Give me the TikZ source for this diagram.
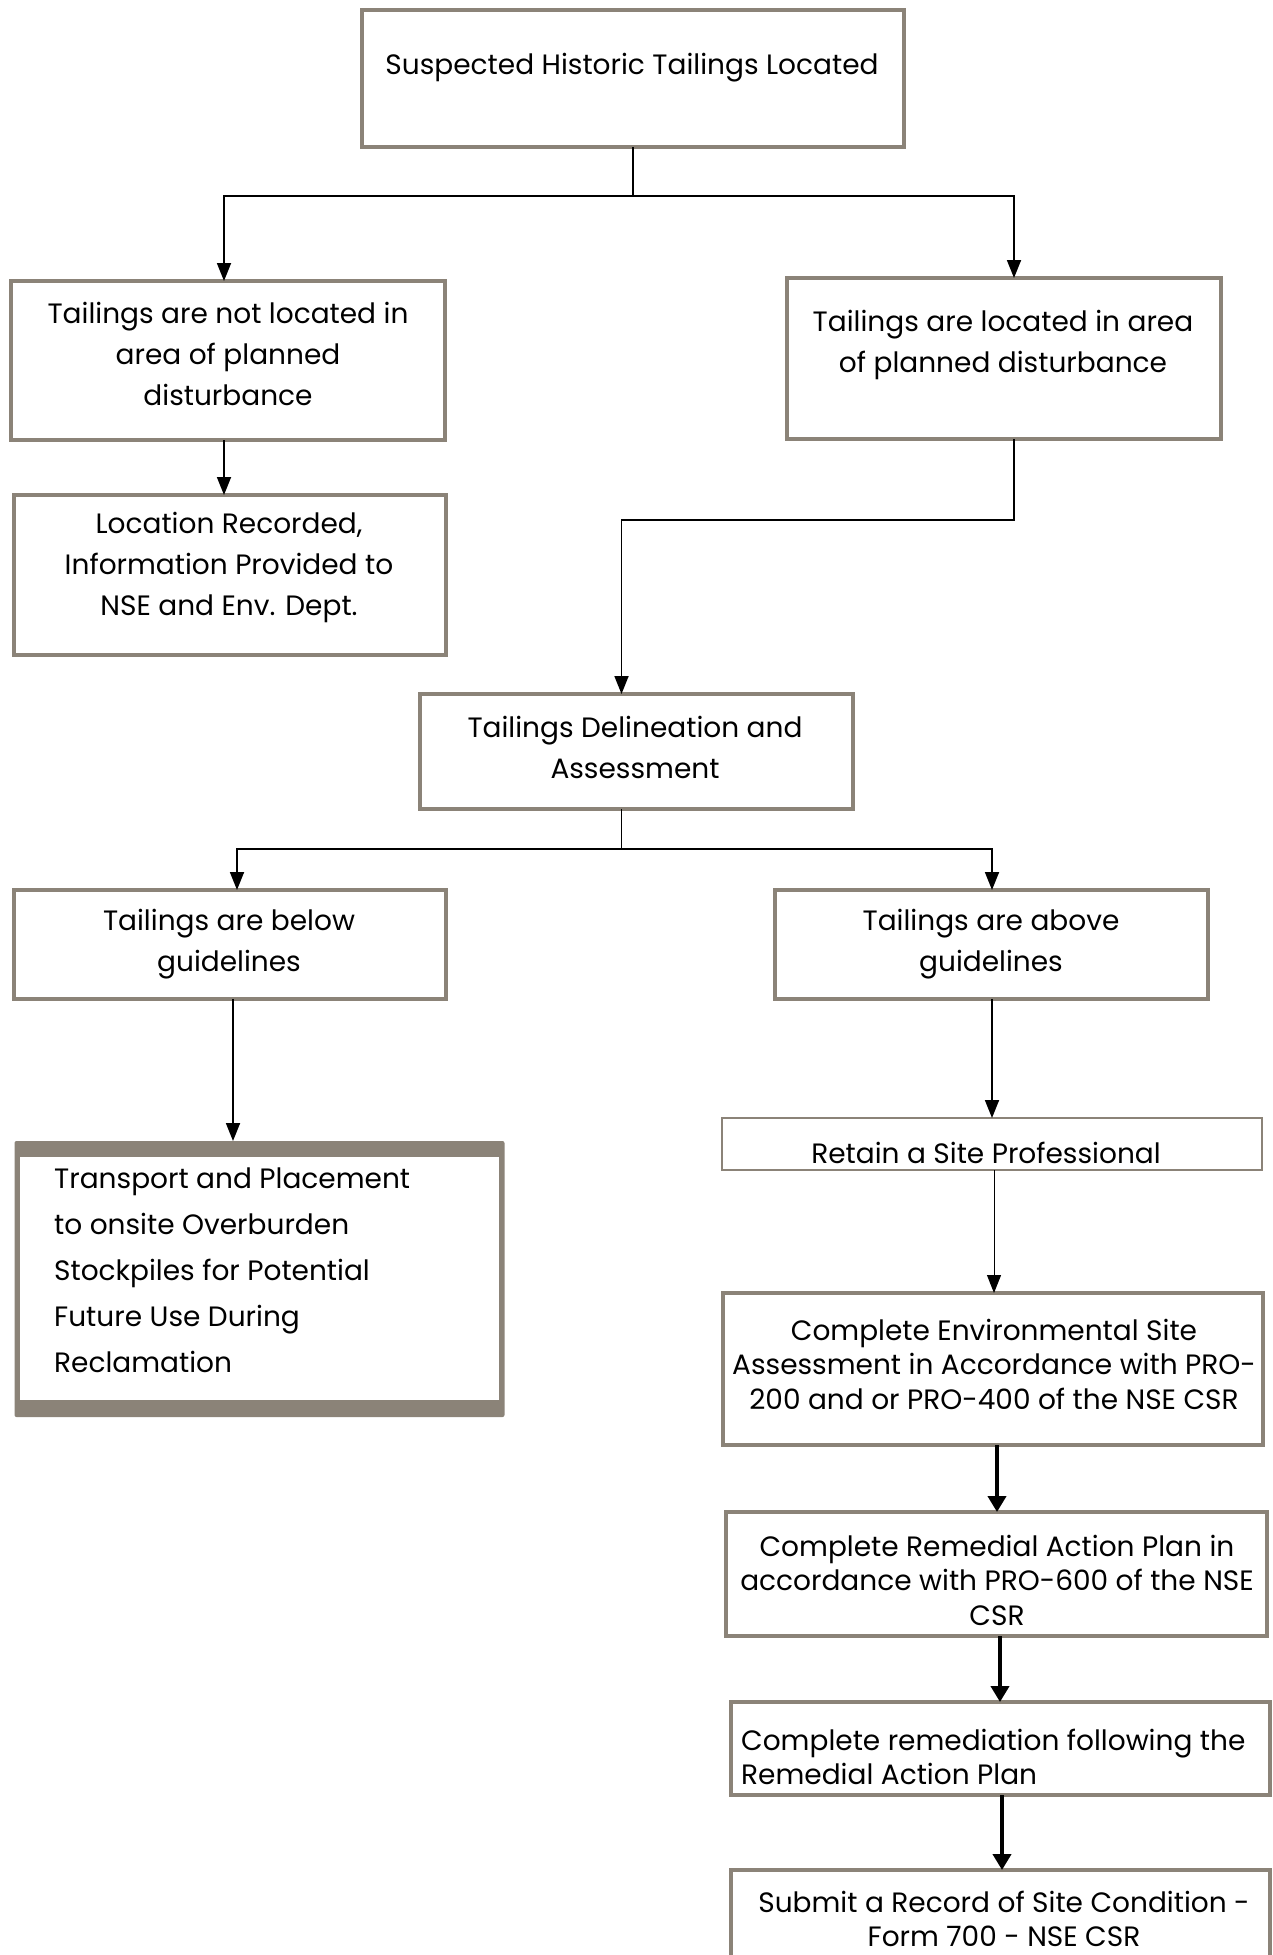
\documentclass[tikz,border=0pt]{standalone}
\usepackage{fontspec}
\setmainfont{Poppins}
\usetikzlibrary{arrows.meta,calc}
\definecolor{boxc}{RGB}{139,131,120}
\begin{document}
\begin{tikzpicture}[x=1pt,y=-1pt,
  box/.style={draw=boxc,line width=4.5pt,fill=white,inner sep=0pt,outer sep=0pt,rectangle},
  thinbox/.style={draw=boxc,line width=2pt,fill=white,inner sep=0pt,outer sep=0pt,rectangle},
  txt/.style={inner sep=0pt,align=center,text=black},
  fa/.style={font=\fontsize{28}{41}\selectfont},
  fb/.style={font=\fontsize{28}{34.5}\selectfont},
  conn/.style={draw=black,line width=1.8pt,-{Triangle[length=18pt,width=14pt]}},
  line/.style={draw=black,line width=1.8pt},
  thinconn/.style={draw=black,line width=1pt,-{Triangle[length=18pt,width=14pt]}},
  thickconn/.style={draw=black,line width=4pt,-{Triangle[length=16pt,width=18pt]}}]
\useasboundingbox (0,0) rectangle (1273,1955);
\clip (0,0) rectangle (1273,1955);
% boxes
\node[box,minimum width=542pt,minimum height=137pt] (top) at (633,78.5) {};
\node[box,minimum width=434pt,minimum height=159pt] (notloc) at (228,360.5) {};
\node[box,minimum width=434pt,minimum height=161pt] (loc) at (1004,358.5) {};
\node[box,minimum width=432pt,minimum height=160pt] (record) at (230,575) {};
\node[box,minimum width=433pt,minimum height=115pt] (delin) at (636.5,751.5) {};
\node[box,minimum width=432pt,minimum height=109pt] (below) at (230,944.5) {};
\node[box,minimum width=433pt,minimum height=109pt] (above) at (991.5,944.5) {};
\node[rectangle,fill=boxc,rounded corners=2pt,minimum width=490pt,minimum height=276pt,inner sep=0pt,outer sep=0pt] (trans) at (259.5,1279) {};
\node[rectangle,fill=white,minimum width=479pt,minimum height=243pt,inner sep=0pt] (transin) at (259.5,1278.5) {};
\node[thinbox,minimum width=540pt,minimum height=52pt] (retain) at (992,1144) {};
\node[box,minimum width=540pt,minimum height=152pt] (esa) at (993,1369) {};
\node[box,minimum width=541pt,minimum height=124pt] (rap) at (996.5,1574) {};
\node[box,minimum width=539pt,minimum height=93pt] (remed) at (1000.5,1748.5) {};
\node[box,minimum width=539pt,minimum height=100pt] (submit) at (1000.5,1920) {};
% texts
\node[txt,fa] (ttop) at (632,68) {Suspected Historic Tailings Located};
\node[txt,fa] (tnotloc) at (228,354) {Tailings are not located in\\area of planned\\disturbance};
\node[txt,fa] (tloc) at (1003,345) {Tailings are located in area\\of planned disturbance};
\node[txt,fa] (trecord) at (229,567) {Location Recorded,\\Information Provided to\\NSE and Env. Dept.};
\node[txt,fa] (tdelin) at (635,747) {Tailings Delineation and\\Assessment};
\node[txt,fa] (tbelow) at (229,944) {Tailings are below\\guidelines};
\node[txt,fa] (tabove) at (991,944) {Tailings are above\\guidelines};
\node[txt,align=left,anchor=west,font=\fontsize{28}{46}\selectfont] (ttrans) at (54,1270) {Transport and Placement\\to onsite Overburden\\Stockpiles for Potential\\Future Use During\\Reclamation};
\node[txt,fb] (tretain) at (986,1153) {Retain a Site Professional};
\node[txt,fb] (tesa) at (994,1364) {Complete Environmental Site\\Assessment in Accordance with PRO-\\200 and or PRO-400 of the NSE CSR};
\node[txt,fb] (trap) at (997,1580) {Complete Remedial Action Plan in\\accordance with PRO-600 of the NSE\\CSR};
\node[txt,fb,align=left,anchor=west] (tremed) at (741,1757) {Complete remediation following the\\Remedial Action Plan};
\node[txt,fb] (tsubmit) at (1004,1919) {Submit a Record of Site Condition -\\Form 700 - NSE CSR};
% connectors
\coordinate (s1) at ($(top.south)+(0,49)$);
\draw[line] (top.south) -- (s1);
\draw[conn] (s1) -| ([xshift=-4pt]notloc.north);
\draw[conn] (s1) -| ([xshift=10pt]loc.north);
\draw[conn] ([xshift=-4pt]notloc.south) -- ([xshift=-4pt]notloc.south |- record.north);
\coordinate (s2) at ($([xshift=10pt]loc.south)+(0,81)$);
\draw[conn] ([xshift=10pt]loc.south) -- (s2) -| ([xshift=-15pt]delin.north);
\coordinate (s3) at ($([xshift=-15pt]delin.south)+(0,40)$);
\draw[line] ([xshift=-15pt]delin.south) -- (s3);
\draw[conn] (s3) -| ([xshift=7pt]below.north);
\draw[conn] (s3) -| ([xshift=0.5pt]above.north);
\draw[conn] ([xshift=3pt]below.south) -- ([xshift=3pt]below.south |- trans.north);
\draw[conn] ([xshift=0.5pt]above.south) -- ([xshift=0.5pt]above.south |- retain.north);
\draw[thinconn] ([xshift=2pt]retain.south) -- ([xshift=2pt]retain.south |- esa.north);
\draw[thickconn] ([xshift=4pt]esa.south) -- ([xshift=4pt]esa.south |- rap.north);
\draw[thickconn] ([xshift=3.5pt]rap.south) -- ([xshift=3.5pt]rap.south |- remed.north);
\draw[thickconn] ([xshift=1.5pt]remed.south) -- ([xshift=1.5pt]remed.south |- submit.north);
\end{tikzpicture}
\end{document}
